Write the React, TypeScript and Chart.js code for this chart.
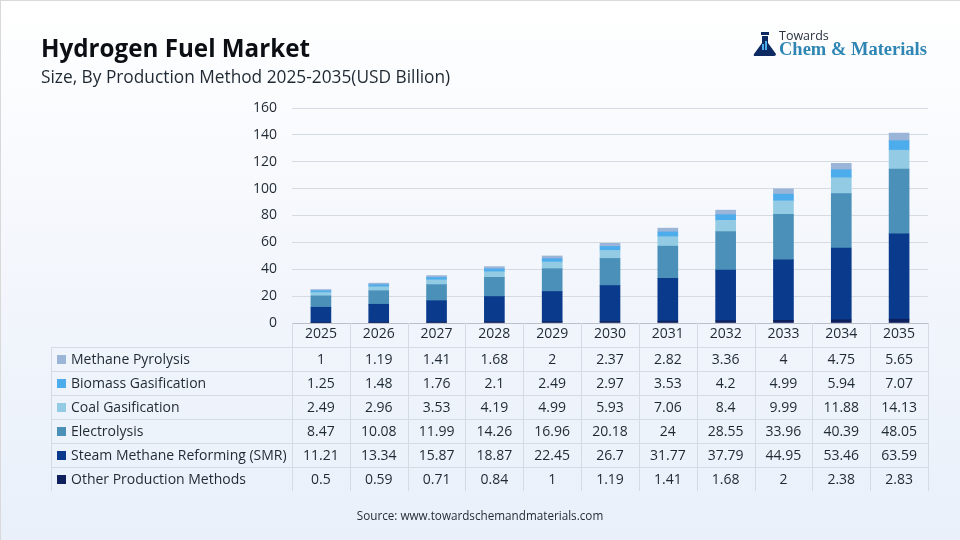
import React, { useRef, useEffect } from "react";
import { Chart, Plugin, registerables } from "chart.js";

Chart.register(...registerables);

const years = ["2025", "2026", "2027", "2028", "2029", "2030", "2031", "2032", "2033", "2034", "2035"];
const yTicks = [0, 20, 40, 60, 80, 100, 120, 140, 160];

const otherMethods = [0.5, 0.59, 0.71, 0.84, 1, 1.19, 1.41, 1.68, 2, 2.38, 2.83];
const steamReforming = [11.21, 13.34, 15.87, 18.87, 22.45, 26.7, 31.77, 37.79, 44.95, 53.46, 63.59];
const electrolysis = [8.47, 10.08, 11.99, 14.26, 16.96, 20.18, 24, 28.55, 33.96, 40.39, 48.05];
const coalGasification = [2.49, 2.96, 3.53, 4.19, 4.99, 5.93, 7.06, 8.4, 9.99, 11.88, 14.13];
const biomassGasification = [1.25, 1.48, 1.76, 2.1, 2.49, 2.97, 3.53, 4.2, 4.99, 5.94, 7.07];
const methanePyrolysis = [1, 1.19, 1.41, 1.68, 2, 2.37, 2.82, 3.36, 4, 4.75, 5.65];

const FONT = '"Open Sans", "Noto Sans", sans-serif';
const TEXT = "#1f2933";
const LINE = "#d5dbe3";

// bottom of the stack first
const series = [
  { label: "Other Production Methods", data: otherMethods, color: "#0d1f5c" },
  { label: "Steam Methane Reforming (SMR)", data: steamReforming, color: "#0a3a8c" },
  { label: "Electrolysis", data: electrolysis, color: "#4b90b8" },
  { label: "Coal Gasification", data: coalGasification, color: "#92cbe3" },
  { label: "Biomass Gasification", data: biomassGasification, color: "#4dacec" },
  { label: "Methane Pyrolysis", data: methanePyrolysis, color: "#9ab5d8" },
];

const backgroundPlugin: Plugin<"bar"> = {
  id: "pageBackground",
  beforeDraw(chart) {
    const { ctx, width, height } = chart;
    const grad = ctx.createLinearGradient(0, 0, 0, height);
    grad.addColorStop(0, "#ffffff");
    grad.addColorStop(0.45, "#f4f7fc");
    grad.addColorStop(1, "#e9f0fa");
    ctx.save();
    ctx.fillStyle = grad;
    ctx.fillRect(0, 0, width, height);
    ctx.fillStyle = "#d9d9d9";
    ctx.fillRect(0, 0, width, 1);
    ctx.fillRect(0, 0, 1, height);
    ctx.restore();
  },
};

const headerPlugin: Plugin<"bar"> = {
  id: "pageHeader",
  afterDraw(chart) {
    const { ctx } = chart;
    ctx.save();
    ctx.textBaseline = "alphabetic";
    ctx.textAlign = "left";
    ctx.fillStyle = "#0b0f14";
    ctx.font = `700 24.2px ${FONT}`;
    ctx.fillText("Hydrogen Fuel Market", 41, 57);
    ctx.fillStyle = TEXT;
    ctx.font = `400 17.3px ${FONT}`;
    ctx.fillText("Size, By Production Method 2025-2035(USD Billion)", 41, 83);

    // logo: flask + wordmark
    ctx.fillStyle = "#0d2a63";
    ctx.beginPath();
    ctx.moveTo(762, 36);
    ctx.lineTo(768, 36);
    ctx.lineTo(768, 43);
    ctx.lineTo(776, 54);
    ctx.quadraticCurveTo(776, 56, 774, 56);
    ctx.lineTo(755, 56);
    ctx.quadraticCurveTo(753, 56, 754, 54);
    ctx.lineTo(762, 43);
    ctx.closePath();
    ctx.fill();
    ctx.fillRect(761, 32, 8, 3);
    ctx.fillStyle = "#4dacec";
    ctx.fillRect(762, 44, 2, 6);
    ctx.fillRect(765, 41, 2, 9);
    ctx.fillStyle = "#2b3340";
    ctx.font = `400 12.5px ${FONT}`;
    ctx.fillText("Towards", 779, 40);
    ctx.fillStyle = "#2f86b4";
    ctx.font = '700 18.5px "Liberation Serif", serif';
    ctx.fillText("Chem & Materials", 779, 55);

    ctx.fillStyle = TEXT;
    ctx.font = `400 11.7px ${FONT}`;
    ctx.textAlign = "center";
    ctx.fillText("Source: www.towardschemandmaterials.com", 480, 520);
    ctx.restore();
  },
};

const ROW_H = 24;
const tablePlugin: Plugin<"bar"> = {
  id: "dataTable",
  afterDraw(chart) {
    const { ctx, chartArea } = chart;
    const x = chart.scales.x;
    const left = 51;
    const headBottom = chartArea.bottom + ROW_H;
    const rows = [...series].reverse();
    const bottom = headBottom + rows.length * ROW_H;
    const step = (chartArea.right - chartArea.left) / years.length;

    ctx.save();
    ctx.strokeStyle = LINE;
    ctx.lineWidth = 1;
    ctx.beginPath();
    rows.forEach((_, i) => {
      const y = Math.round(headBottom + i * ROW_H) + 0.5;
      ctx.moveTo(left, y);
      ctx.lineTo(chartArea.right, y);
    });
    ctx.moveTo(left + 0.5, headBottom);
    ctx.lineTo(left + 0.5, bottom);
    for (let i = 0; i <= years.length; i++) {
      const lx = Math.round(chartArea.left + i * step) + 0.5;
      ctx.moveTo(lx, chartArea.bottom);
      ctx.lineTo(lx, bottom);
    }
    ctx.stroke();

    ctx.textBaseline = "middle";
    ctx.font = `400 14px ${FONT}`;
    rows.forEach((s, i) => {
      const cy = headBottom + i * ROW_H + ROW_H / 2 + 1;
      ctx.fillStyle = s.color;
      ctx.fillRect(57, Math.round(cy) - 5, 9, 9);
      ctx.fillStyle = TEXT;
      ctx.textAlign = "left";
      ctx.fillText(s.label, 71, cy);
      ctx.textAlign = "center";
      s.data.forEach((v, j) => ctx.fillText(String(v), x.getPixelForValue(j), cy));
    });
    ctx.restore();
  },
};

const App: React.FC = () => {
  const chartRef = useRef<HTMLCanvasElement>(null);

  useEffect(() => {
    if (!chartRef.current) return;
    document.body.style.margin = "0";

    const chartInstance = new Chart(chartRef.current, {
      type: "bar",
      data: {
        labels: years,
        datasets: series.map((s) => ({
          label: s.label,
          data: s.data,
          backgroundColor: s.color,
          barThickness: 20,
          stack: "total",
        })),
      },
      options: {
        responsive: false,
        animation: false,
        layout: { padding: { top: 108, right: 32, left: 0, bottom: 0 } },
        plugins: {
          legend: { display: false },
          title: { display: false },
          tooltip: { enabled: false },
        },
        scales: {
          x: {
            stacked: true,
            afterFit: (scale) => {
              scale.height = 217;
            },
            grid: { display: false, drawTicks: false },
            border: { color: "#b9c0ca" },
            ticks: {
              color: TEXT,
              font: { family: FONT, size: 14 },
              padding: 3,
              maxRotation: 0,
              autoSkip: false,
            },
          },
          y: {
            stacked: true,
            min: 0,
            max: 160,
            afterFit: (scale) => {
              scale.width = 292;
            },
            afterBuildTicks: (scale) => {
              scale.ticks = yTicks.map((value) => ({ value }));
            },
            grid: { color: LINE, drawTicks: false },
            border: { display: false },
            ticks: {
              color: TEXT,
              font: { family: FONT, size: 14 },
              padding: 15,
            },
          },
        },
      },
      plugins: [backgroundPlugin, tablePlugin, headerPlugin],
    });

    return () => {
      chartInstance.destroy();
    };
  }, []);

  return <canvas ref={chartRef} width={960} height={540} style={{ display: "block" }} />;
};

export default App;
